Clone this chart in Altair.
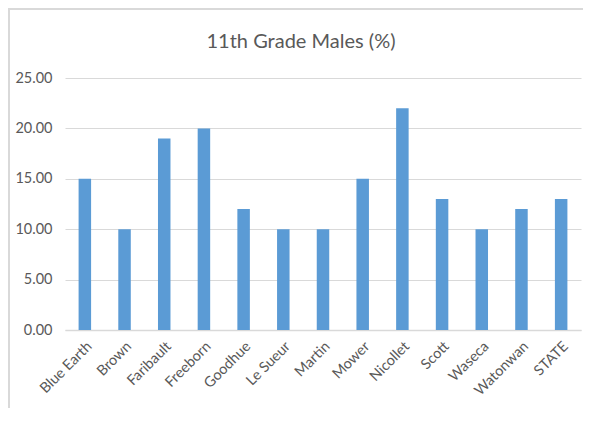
import altair as alt
import pandas as pd

counties = ["Blue Earth", "Brown", "Faribault", "Freeborn", "Goodhue", "Le Sueur",
            "Martin", "Mower", "Nicollet", "Scott", "Waseca", "Watonwan", "STATE"]
values = [15, 10, 19, 20, 12, 10, 10, 15, 22, 13, 10, 12, 13]
y_ticks = [0, 5, 10, 15, 20, 25]

df = pd.DataFrame({"county": counties, "pct": values})

FONT = "Lato"
GRAY = "#595959"

bars = alt.Chart(df).mark_bar(color="#5B9BD5", width=12.5).encode(
    x=alt.X("county:N", sort=counties, title=None,
            scale=alt.Scale(paddingInner=0, paddingOuter=0),
            axis=alt.Axis(labelAngle=-45, labelAlign="right", labelBaseline="top",
                          ticks=False, domainColor="#d9d9d9", domainWidth=1.5,
                          labelColor=GRAY, labelFontSize=14.5, labelFont=FONT,
                          labelPadding=9)),
    y=alt.Y("pct:Q", title=None,
            scale=alt.Scale(domain=[0, 25], nice=False),
            axis=alt.Axis(values=y_ticks, format=".2f", domain=False, ticks=False,
                          gridColor="#d9d9d9", gridWidth=1.2, labelColor=GRAY,
                          labelFontSize=14.5, labelFont=FONT, labelPadding=13)),
)

border = alt.Chart().mark_rect(fill=None, stroke="#d9d9d9", strokeWidth=2, clip=False).encode(
    x=alt.value(-56), x2=alt.value(560), y=alt.value(-69), y2=alt.value(400)
)

title = alt.Chart().mark_text(text="11th Grade Males (%)", fontSize=20, font=FONT,
                              color=GRAY, align="center", baseline="middle").encode(
    x=alt.value(236), y=alt.value(-36)
)

chart = alt.layer(border, bars, title).properties(
    width=516, height=252,
    autosize=alt.AutoSizeParams(type="none"),
    padding={"left": 57, "top": 70, "right": 2, "bottom": 78},
).configure_view(stroke=None)

chart.save("out.html", embed_options={"renderer": "svg", "actions": False})
